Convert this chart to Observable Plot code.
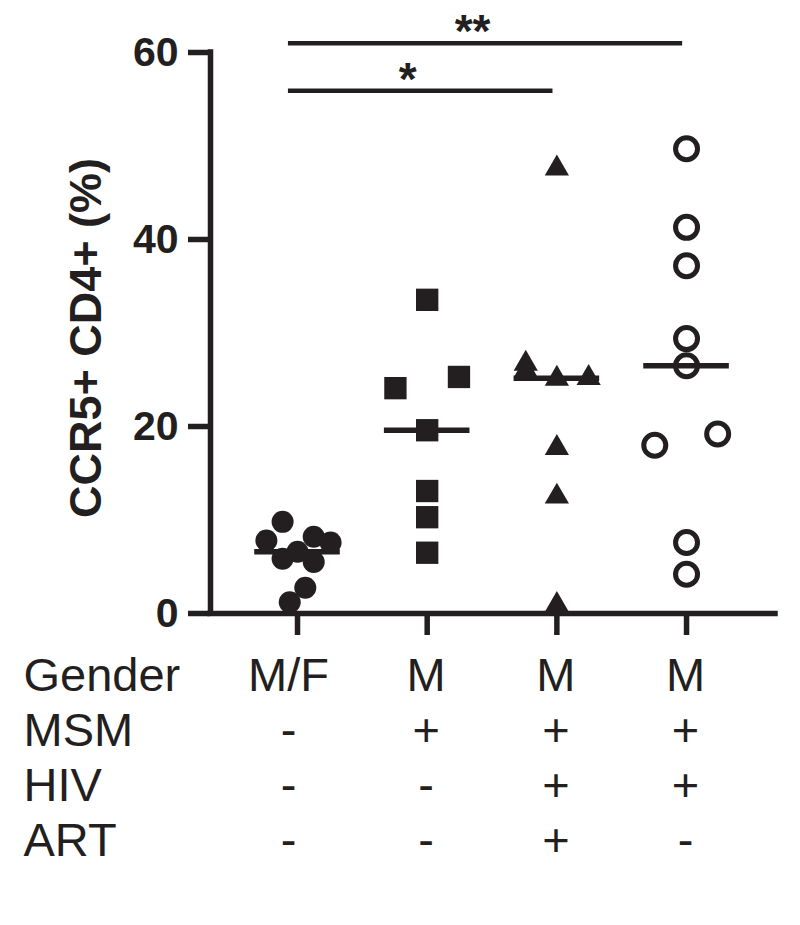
<!DOCTYPE html>
<html>
<head>
<meta charset="utf-8">
<script src="https://cdn.jsdelivr.net/npm/d3@7"></script>
<script src="https://cdn.jsdelivr.net/npm/@observablehq/plot@0.6"></script>
<style>
  html, body { margin: 0; padding: 0; background: #fff; }
</style>
</head>
<body>
<div id="chart"></div>
<script>
// ---- data ----
const groupIndex = [1, 2, 3, 4];

// group 1: M/F, MSM-, HIV-, ART-  (filled circles)
const g1Values = [9.8, 7.8, 8.2, 7.6, 5.85, 6.6, 5.5, 2.75, 1.2];
const g1Jitter = [-0.115, -0.24, 0.125, 0.255, -0.115, 0, 0.125, 0.06, -0.06];
// group 2: M, MSM+, HIV-, ART-  (filled squares)
const g2Values = [33.55, 24.1, 25.3, 19.6, 13.1, 10.3, 6.5];
const g2Jitter = [0, -0.245, 0.245, 0, 0, 0, 0];
// group 3: M, MSM+, HIV+, ART+  (filled triangles)
const g3Values = [47.6, 26.7, 26.0, 25.1, 25.2, 17.7, 12.5, 0.9];
const g3Jitter = [0, -0.24, -0.24, 0, 0.245, 0, 0, 0];
// group 4: M, MSM+, HIV+, ART-  (open circles)
const g4Values = [49.7, 41.3, 37.2, 29.4, 26.5, 18.0, 19.2, 7.6, 4.2];
const g4Jitter = [0, 0, 0, 0, 0, -0.245, 0.24, 0, 0];

const yTicks = [0, 20, 40, 60];
const yTitle = "CCR5+ CD4+ (%)";

// table below the axis
const rowLabels = ["Gender", "MSM", "HIV", "ART"];
const gender = ["M/F", "M", "M", "M"];
const msm = ["-", "+", "+", "+"];
const hiv = ["-", "-", "+", "+"];
const art = ["-", "-", "+", "-"];
const tableRows = [gender, msm, hiv, art];

// significance brackets
const sigFrom = [1, 1];
const sigTo = [3, 4];
const sigLevel = [55.9, 61.0];
const sigLabel = ["*", "**"];

// ---- build ----
const ink = "#231f20";
const font = "'Liberation Sans', Arial, Helvetica, sans-serif";

const toPoints = (vals, jit, g) => vals.map((v, i) => ({x: g + jit[i], y: v}));
const p1 = toPoints(g1Values, g1Jitter, 1);
const p2 = toPoints(g2Values, g2Jitter, 2);
const p3 = toPoints(g3Values, g3Jitter, 3);
const p4 = toPoints(g4Values, g4Jitter, 4);

const medians = [g1Values, g2Values, g3Values, g4Values].map((vals, i) => ({g: groupIndex[i], m: d3.median(vals)}));
const sigs = sigFrom.map((f, i) => ({from: f, to: sigTo[i], level: sigLevel[i], label: sigLabel[i]}));

const marks = [
  // axes
  Plot.ruleX([0.329], {y1: 0, y2: 60, stroke: ink, strokeWidth: 5.5, strokeLinecap: "square"}),
  Plot.ruleY([0], {stroke: ink, strokeWidth: 5.5, strokeLinecap: "square"}),
  Plot.axisY({ticks: yTicks, tickSize: 22, tickPadding: 10, strokeWidth: 5.5, fontSize: 41, fontWeight: "bold", label: null, stroke: ink, fill: ink}),
  Plot.axisX({ticks: groupIndex, tickSize: 22, strokeWidth: 5.5, tickFormat: () => "", label: null, stroke: ink}),
  // y title
  Plot.text([yTitle], {frameAnchor: "left", dx: -110, dy: 5, rotate: -90, lineAnchor: "bottom", textAnchor: "middle", fontSize: 45, fontWeight: "bold", fill: ink}),
  // median lines
  Plot.ruleY(medians, {y: "m", x1: d => d.g - 0.33, x2: d => d.g + 0.33, stroke: ink, strokeWidth: 5.5}),
  // points
  Plot.dot(p1, {x: "x", y: "y", r: 11, symbol: "circle", fill: ink}),
  Plot.dot(p2, {x: "x", y: "y", r: 12.6, symbol: "square", fill: ink}),
  Plot.dot(p3, {x: "x", y: "y", r: 9, symbol: "triangle", fill: ink}),
  Plot.dot(p4, {x: "x", y: "y", r: 11, symbol: "circle", fill: "white", fillOpacity: 0, stroke: ink, strokeWidth: 5}),
  // significance brackets
  Plot.ruleY(sigs, {y: "level", x1: d => d.from - 0.07, x2: d => d.to - 0.03, stroke: ink, strokeWidth: 4.5}),
  Plot.text(sigs, {x: d => (d.from + d.to) / 2 - 0.05, y: "level", text: "label", dx: -13, dy: 4, lineAnchor: "bottom", fontSize: 46, fontWeight: "bold", fill: ink})
];

// table rows
rowLabels.forEach((lab, i) => {
  const dy = 77 + 55.3 * i;
  marks.push(Plot.text([lab], {frameAnchor: "bottom-left", dx: -187, dy, textAnchor: "start", lineAnchor: "bottom", fontSize: 47, fill: ink}));
  const cells = tableRows[i].map((t, j) => ({x: groupIndex[j], t}));
  marks.push(Plot.text(cells.filter((c, j) => j === 0), {x: "x", text: "t", frameAnchor: "bottom", dx: -9, dy, lineAnchor: "bottom", fontSize: 47, fill: ink}));
  marks.push(Plot.text(cells.filter((c, j) => j > 0), {x: "x", text: "t", frameAnchor: "bottom", dx: -1, dy, lineAnchor: "bottom", fontSize: 47, fill: ink}));
});

const chart = Plot.plot({
  width: 800,
  height: 925,
  marginTop: 52,
  marginBottom: 312,
  marginLeft: 210,
  marginRight: 25,
  style: {fontFamily: font, color: ink, background: "white"},
  x: {type: "linear", domain: [0.329, 4.686], axis: null},
  y: {domain: [0, 60], axis: null},
  marks
});
document.getElementById("chart").appendChild(chart);
</script>
</body>
</html>
